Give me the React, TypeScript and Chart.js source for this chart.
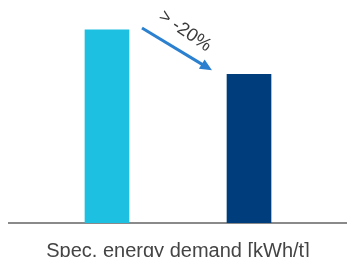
import React, { useEffect, useRef } from "react";
import { Chart, registerables } from "chart.js";

Chart.register(...registerables);

const positions = [0, 1];
const values = [100, 77];
const barColors = ["#1dc0e0", "#003d7c"];
const axisTitle = "Spec. energy demand [kWh/t]";
const changeLabel = "> -20%";

const arrowPlugin = {
  id: "arrowNote",
  afterDatasetsDraw(chart: any) {
    const meta = chart.getDatasetMeta(0);
    const b1 = meta.data[0];
    const b2 = meta.data[1];
    if (!b1 || !b2) return;
    const ctx = chart.ctx;
    const half1 = b1.width / 2;
    const half2 = b2.width / 2;
    const x0 = b1.x + half1 + 13;
    const y0 = b1.y - 2;
    const x1 = b2.x - half2 - 15;
    const y1 = b2.y - 4;
    const ang = Math.atan2(y1 - y0, x1 - x0);
    const head = 12;
    const hw = 5.5;
    ctx.save();
    ctx.strokeStyle = "#2b80cf";
    ctx.fillStyle = "#2b80cf";
    ctx.lineWidth = 3;
    ctx.beginPath();
    ctx.moveTo(x0, y0);
    ctx.lineTo(x1 - Math.cos(ang) * head * 0.8, y1 - Math.sin(ang) * head * 0.8);
    ctx.stroke();
    ctx.beginPath();
    ctx.moveTo(x1, y1);
    const bx = x1 - Math.cos(ang) * head;
    const by = y1 - Math.sin(ang) * head;
    ctx.lineTo(bx + Math.sin(ang) * hw, by - Math.cos(ang) * hw);
    ctx.lineTo(bx - Math.sin(ang) * hw, by + Math.cos(ang) * hw);
    ctx.closePath();
    ctx.fill();
    // label
    const mx = (x0 + x1) / 2 + 8;
    const my = (y0 + y1) / 2 - 18;
    ctx.translate(mx, my);
    ctx.rotate(ang + 0.05);
    ctx.fillStyle = "#3a3a3a";
    ctx.font = "300 18.5px 'Liberation Sans', Arial, sans-serif";
    ctx.textAlign = "center";
    ctx.textBaseline = "middle";
    ctx.fillText(changeLabel, 0, 0);
    ctx.restore();
  },
};

export default function App() {
  const ref = useRef<HTMLCanvasElement | null>(null);
  useEffect(() => {
    if (!ref.current) return;
    const chart = new Chart(ref.current, {
      type: "bar",
      data: {
        datasets: [
          {
            data: positions.map((p, i) => ({ x: p, y: values[i] })),
            backgroundColor: barColors,
            barThickness: 44,
            borderWidth: 0,
          },
        ],
      },
      options: {
        animation: false,
        responsive: true,
        maintainAspectRatio: false,
        layout: { padding: { left: 9, right: 0, top: 0, bottom: 0 } },
        plugins: { legend: { display: false }, tooltip: { enabled: false } },
        scales: {
          x: {
            type: "linear",
            offset: false,
            min: -0.69,
            max: 1.69,
            grid: { display: false, drawTicks: false },
            border: { display: true, color: "#8a8a8a", width: 2 },
            ticks: { display: false },
            title: {
              display: true,
              text: axisTitle,
              color: "#444444",
              font: { family: "'Liberation Sans', Arial, sans-serif", size: 20, weight: "normal" },
              padding: { top: 16, bottom: -6 },
            },
          },
          y: {
            display: false,
            min: 0,
            max: 115.5,
          },
        },
      },
      plugins: [arrowPlugin],
    } as any);
    return () => chart.destroy();
  }, []);
  return (
    <div style={{ position: "absolute", left: 0, top: 0, width: 347, height: 257 }}>
      <canvas ref={ref} />
    </div>
  );
}
